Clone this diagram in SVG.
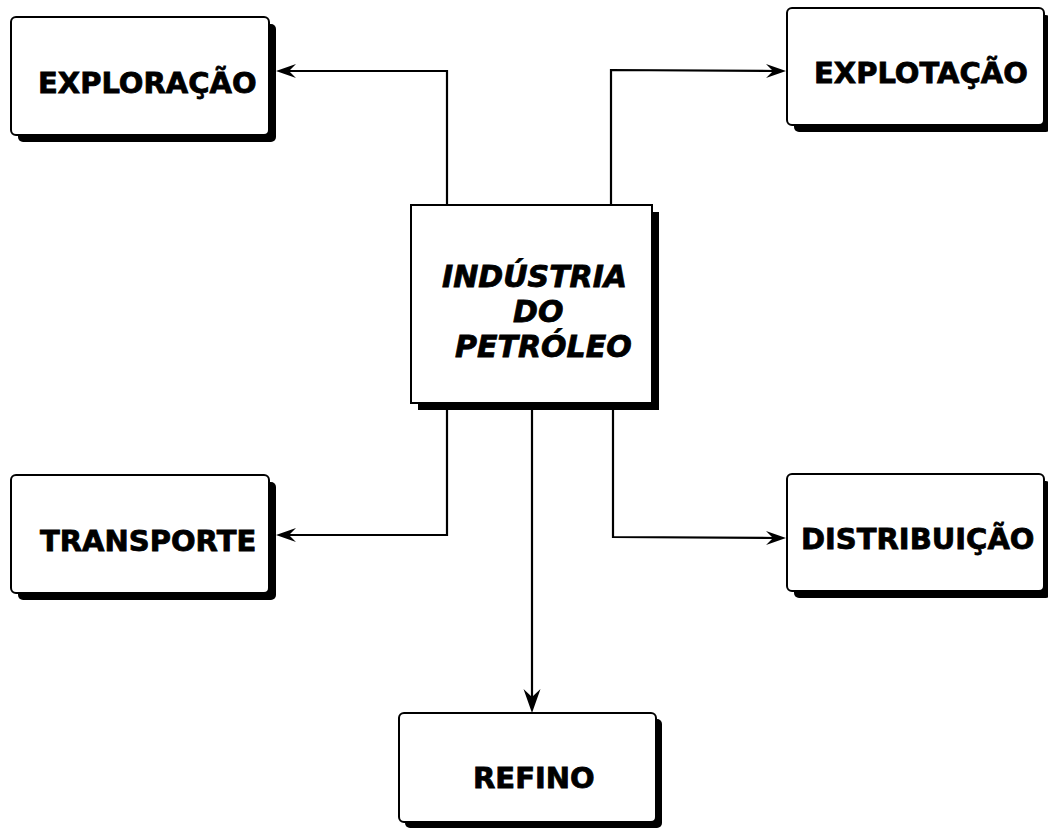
<svg xmlns="http://www.w3.org/2000/svg" width="1048" height="837" viewBox="0 0 1048 837">
<defs>
<style>
.box{fill:#fff;stroke:#000;stroke-width:2}
.sh{fill:#000}
.lbl{font-family:"DejaVu Sans","Verdana",sans-serif;font-weight:bold;font-size:29px;fill:#000;stroke:#000;stroke-width:0.8}
.it{font-style:italic;font-size:30px}
.con{fill:none;stroke:#000;stroke-width:2.2}
.head{fill:#000;stroke:none}
</style>
</defs>
<rect width="1048" height="837" fill="#fff"/>
<g id="connectors">
<path class="con" d="M447,205 L447,71 L288,71"/>
<polygon class="head" points="276,71 296,64 289,71 296,78"/>
<path class="con" d="M611,205 L611,70 L775,71"/>
<polygon class="head" points="786,71 766,64 773,71 766,78"/>
<path class="con" d="M447,403 L447,535 L288,535"/>
<polygon class="head" points="276,535 296,528 289,535 296,542"/>
<path class="con" d="M613,403 L613,537 L775,538"/>
<polygon class="head" points="786,538 766,531 773,538 766,545"/>
<path class="con" d="M532,403 L532,700"/>
<polygon class="head" points="532,713 523.5,689 532,697 540.5,689"/>
</g>
<g id="industria">
<rect class="sh" x="418" y="212" width="241" height="198"/>
<rect class="box" x="411" y="205" width="241" height="198"/>
<text class="lbl it" x="442" y="287">INDÚSTRIA</text>
<text class="lbl it" x="513" y="322">DO</text>
<text class="lbl it" x="455" y="357">PETRÓLEO</text>
</g>
<g id="exploracao">
<rect class="sh" x="18" y="24" width="258" height="118" rx="5"/>
<rect class="box" x="11" y="17" width="258" height="118" rx="5"/>
<text class="lbl" x="38" y="93">EXPLORAÇÃO</text>
</g>
<g id="explotacao">
<rect class="sh" x="794" y="15" width="257" height="117" rx="5"/>
<rect class="box" x="787" y="8" width="257" height="117" rx="5"/>
<text class="lbl" x="814" y="83">EXPLOTAÇÃO</text>
</g>
<g id="transporte">
<rect class="sh" x="18" y="482" width="258" height="118" rx="5"/>
<rect class="box" x="11" y="475" width="258" height="118" rx="5"/>
<text class="lbl" x="40" y="551">TRANSPORTE</text>
</g>
<g id="distribuicao">
<rect class="sh" x="794" y="481" width="257" height="117" rx="5"/>
<rect class="box" x="787" y="474" width="257" height="117" rx="5"/>
<text class="lbl" x="801" y="549">DISTRIBUIÇÃO</text>
</g>
<g id="refino">
<rect class="sh" x="405" y="719" width="257" height="109" rx="5"/>
<rect class="box" x="399" y="713" width="257" height="109" rx="5"/>
<text class="lbl" x="473" y="788">REFINO</text>
</g>
</svg>
